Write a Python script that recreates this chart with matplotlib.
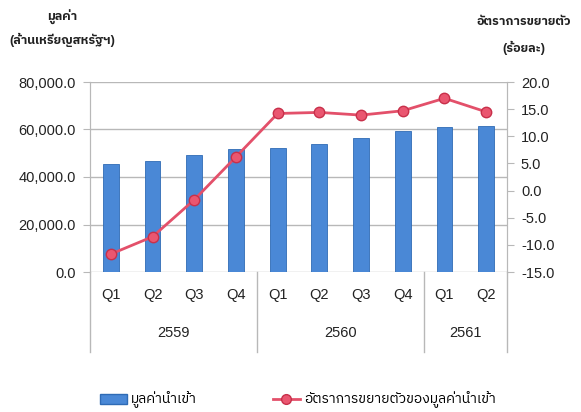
import matplotlib
matplotlib.use('Agg')
import matplotlib.pyplot as plt
from matplotlib import font_manager
from matplotlib.lines import Line2D
from matplotlib.patches import Patch

# data
quarters = ['Q1', 'Q2', 'Q3', 'Q4', 'Q1', 'Q2', 'Q3', 'Q4', 'Q1', 'Q2']
years = ['2559', '2560', '2561']
year_counts = [4, 4, 2]
import_value = [45400, 46900, 49300, 51800, 52200, 53900, 56300, 59400, 60900, 61600]
growth = [-11.7, -8.5, -1.7, 6.2, 14.2, 14.4, 13.9, 14.7, 17.0, 14.5]

# a font that can draw Thai, after Liberation Sans for latin text
thai_fonts = []
for f in font_manager.fontManager.ttflist:
    if 'Thai' in f.name or 'Loma' in f.name or 'Garuda' in f.name or 'Tlwg' in f.name:
        thai_fonts.append(f.name)
plt.rcParams['font.family'] = ['Liberation Sans'] + sorted(set(thai_fonts)) + ['DejaVu Sans']

fig = plt.figure(figsize=(5.81, 4.12), dpi=100)
ax = fig.add_axes([90/581, 1-272/412, 417/581, 190/412])
ax2 = ax.twinx()

x = list(range(len(quarters)))
ax.bar(x, import_value, width=0.38, color='#4a88d6', edgecolor='#2f6bb5', linewidth=0.6, zorder=3)
ax.set_ylim(0, 80000)
ax.set_xlim(-0.5, len(quarters) - 0.5)
ax.set_yticks([0, 20000, 40000, 60000, 80000])
ax.set_yticklabels(['{:,.1f}'.format(v) for v in [0, 20000, 40000, 60000, 80000]])
ax.yaxis.grid(True, color='#b8b8b8', linewidth=1)
ax.set_axisbelow(True)
ax.set_xticks([])

ax2.plot(x, growth, color='#e3506a', linewidth=2, marker='o', markersize=7.5,
         markerfacecolor='#ea5670', markeredgecolor='#c8304a', zorder=4)
ax2.set_ylim(-15, 20)
ax2.set_yticks([-15, -10, -5, 0, 5, 10, 15, 20])
ax2.set_yticklabels(['{:.1f}'.format(v) for v in [-15, -10, -5, 0, 5, 10, 15, 20]])

for a in (ax, ax2):
    for s in ['top', 'bottom']:
        a.spines[s].set_visible(False)
    a.spines['left'].set_color('#b8b8b8')
    a.spines['right'].set_color('#b8b8b8')
    a.tick_params(axis='y', length=5, color='#b8b8b8', labelsize=10.5, labelcolor='#222222', pad=5)

# category labels below
for i, q in enumerate(quarters):
    ax.text(i, -0.12, q, transform=ax.get_xaxis_transform(), ha='center', va='center', fontsize=10.5, color='#222222')
start = 0
bounds = [-0.5]
for yr, n in zip(years, year_counts):
    ax.text(start + (n - 1) / 2, -0.32, yr, transform=ax.get_xaxis_transform(), ha='center', va='center', fontsize=10.5, color='#222222')
    start += n
    bounds.append(start - 0.5)
for b in bounds:
    ax.plot([b, b], [0, -0.42], transform=ax.get_xaxis_transform(), color='#b8b8b8', linewidth=1, clip_on=False)

fig.text(62/581, 1-17/412, 'มูลค่า', ha='center', va='center', fontsize=9, fontweight='bold', color='#222222')
fig.text(62/581, 1-40/412, '(ล้านเหรียญสหรัฐฯ)', ha='center', va='center', fontsize=9, fontweight='bold', color='#222222')
fig.text(524/581, 1-22/412, 'อัตราการขยายตัว', ha='center', va='center', fontsize=9, fontweight='bold', color='#222222')
fig.text(524/581, 1-48/412, '(ร้อยละ)', ha='center', va='center', fontsize=9, fontweight='bold', color='#222222')

handles = [Patch(facecolor='#4a88d6', edgecolor='#2f6bb5'),
           Line2D([0], [0], color='#e3506a', linewidth=2, marker='o', markersize=7,
                  markerfacecolor='#ea5670', markeredgecolor='#c8304a')]
fig.legend(handles, ['มูลค่านำเข้า', 'อัตราการขยายตัวของมูลค่านำเข้า'], loc='center',
           bbox_to_anchor=(298/581, 1-400/412), ncol=2, frameon=False, fontsize=10,
           columnspacing=5.5, handlelength=1.9, handletextpad=0.3)

fig.savefig('out.png', dpi=100)
